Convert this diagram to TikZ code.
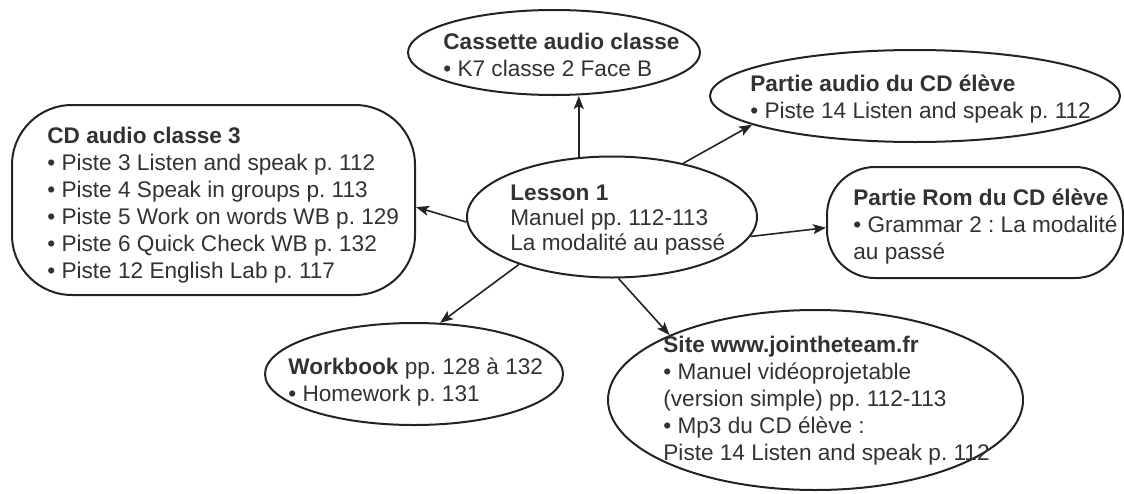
\documentclass[tikz,border=0pt]{standalone}
\usepackage{fontspec}
\setmainfont{Liberation Sans}
\usepackage{xcolor}
\usepackage{tikz}
\usetikzlibrary{arrows.meta,shapes.geometric}
\frenchspacing
\definecolor{inkgray}{RGB}{35,35,35}
\definecolor{textgray}{RGB}{50,50,50}
\tikzset{
  bubble/.style={ellipse, draw=inkgray, line width=1pt, inner sep=0pt},
  blob/.style={rectangle, draw=inkgray, line width=1pt, inner sep=0pt, rounded corners=24pt},
  txt/.style={inner sep=0pt, anchor=base west, align=left, text=textgray,
              font=\fontsize{11.3}{13.5}\selectfont},
  link/.style={-{Stealth[length=6.5pt,width=5pt,inset=1.5pt]}, line width=0.8pt, inkgray}
}

\begin{document}
\begin{tikzpicture}[x=0.5pt,y=-0.5pt]
\useasboundingbox (0,0) rectangle (1124,493);
% outlines
\node[bubble, minimum width=146pt, minimum height=42.5pt] (cass) at (554,52.5) {};
\node[bubble, minimum width=205pt, minimum height=46pt] (audio) at (915,96) {};
\node[blob, minimum width=201.5pt, minimum height=95pt, rounded corners=30pt] (cd) at (213.5,200) {};
\node[bubble, minimum width=145pt, minimum height=60.5pt] (lesson) at (612,217) {};
\node[blob, minimum width=148pt, minimum height=55.5pt] (rom) at (975,222.5) {};
\node[bubble, minimum width=149pt, minimum height=51pt] (wb) at (414,374) {};
\node[bubble, minimum width=207.5pt, minimum height=90pt] (site) at (815.5,400) {};
% texts (base = last line)
\node[txt] (cassT) at (443,76) {\textbf{Cassette audio classe}\\\textbullet\ K7 classe 2 Face B};
\node[txt] (audioT) at (750,118) {\textbf{Partie audio du CD élève}\\\textbullet\ Piste 14 Listen and speak p. 112};
\node[txt] (cdT) at (47,278) {\textbf{CD audio classe 3}\\
  \textbullet\ Piste 3 Listen and speak p. 112\\
  \textbullet\ Piste 4 Speak in groups p. 113\\
  \textbullet\ Piste 5 Work on words WB p. 129\\
  \textbullet\ Piste 6 Quick Check WB p. 132\\
  \textbullet\ Piste 12 English Lab p. 117};
\node[txt, font=\fontsize{11.3}{12.5}\selectfont] (lessonT) at (510,250) {\textbf{Lesson 1}\\Manuel pp. 112-113\\La modalité au passé};
\node[txt] (romT) at (853,259) {\textbf{Partie Rom du CD élève}\\\textbullet\ Grammar 2 : La modalité\\au passé};
\node[txt] (wbT) at (288,401) {\textbf{Workbook} pp. 128 à 132\\\textbullet\ Homework p. 131};
\node[txt] (siteT) at (663,460) {\textbf{Site www.jointheteam.fr}\\
  \textbullet\ Manuel vidéoprojetable\\
  (version simple) pp. 112-113\\
  \textbullet\ Mp3 du CD élève :\\
  Piste 14 Listen and speak p. 112};
% arrows
\draw[link] (lesson.119.5) -- (lesson.119.5 |- cass.south);
\draw[link] (lesson.37) -- (audio.190);
\draw[link] (lesson.182) -- (cd.-2);
\draw[link] (lesson.-8) -- (rom.182.5);
\draw[link] (lesson.207) -- (wb.63);
\draw[link] (lesson.-84) -- (site.156);
\end{tikzpicture}
\end{document}
